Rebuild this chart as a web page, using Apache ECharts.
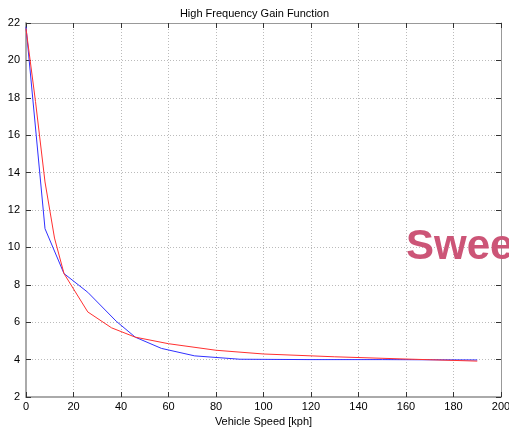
<!DOCTYPE html>
<html><head><meta charset="utf-8">
<script src="https://cdn.jsdelivr.net/npm/echarts@6/dist/echarts.min.js"></script>
<style>html,body{margin:0;padding:0;background:#fff}#c{width:509px;height:428px}</style>
</head><body><div id="c"></div>
<script>
const blueSpeed = [0, 8, 16, 26, 38, 46, 57, 71, 90, 120, 150, 190];
const blueGain  = [21.8, 11.0, 8.6, 7.6, 6.05, 5.2, 4.6, 4.2, 4.02, 4.0, 4.0, 3.98];
const redSpeed  = [0, 4, 8, 12, 16, 26, 36, 46, 60, 80, 100, 130, 160, 190];
const redGain   = [21.7, 17.8, 13.5, 10.5, 8.6, 6.55, 5.7, 5.2, 4.85, 4.5, 4.3, 4.15, 4.03, 3.92];
const xTicks = [0, 200, 20];
const yTicks = [2, 22, 2];
const titleText = 'High Frequency Gain Function';
const xName = 'Vehicle Speed [kph]';
const watermark = 'Swee';

const font = 'Arial, "Liberation Sans", sans-serif';
const chart = echarts.init(document.getElementById('c'), null, {renderer: 'canvas'});
const pair = (xs, ys) => xs.map((x, i) => [x, ys[i]]);
function sideAxis(extra) {
  return Object.assign({
    type: 'value',
    axisLine: {show: true, onZero: false, lineStyle: {color: '#999', width: 1}},
    axisTick: {show: true, inside: true, length: 5, lineStyle: {color: '#333'}},
    axisLabel: {show: false}, splitLine: {show: false}
  }, extra);
}
chart.setOption({
  animation: false,
  backgroundColor: '#fff',
  title: {text: titleText, left: 'center', top: 3,
    textStyle: {fontFamily: font, fontSize: 11, fontWeight: 'normal', color: '#000'}},
  grid: {left: 26, right: 8, top: 23, bottom: 31, show: false, outerBoundsMode: 'none', containLabel: false},
  xAxis: [{
    type: 'value', min: xTicks[0], max: xTicks[1], interval: xTicks[2],
    name: xName, nameLocation: 'middle', nameGap: 19,
    nameTextStyle: {fontFamily: font, fontSize: 11, color: '#000'},
    axisLine: {show: true, onZero: false, lineStyle: {color: '#aaa', width: 2}},
    axisTick: {show: true, inside: true, length: 5, lineStyle: {color: '#333'}},
    axisLabel: {fontFamily: font, fontSize: 11, color: '#000', margin: 4},
    splitLine: {show: true, lineStyle: {color: '#bbb', type: [1, 2], width: 1}}
  }, sideAxis({position: 'top', min: xTicks[0], max: xTicks[1], interval: xTicks[2]})],
  yAxis: [{
    type: 'value', min: yTicks[0], max: yTicks[1], interval: yTicks[2],
    axisLine: {show: true, onZero: false, lineStyle: {color: '#aaa', width: 2}},
    axisTick: {show: true, inside: true, length: 5, lineStyle: {color: '#333'}},
    axisLabel: {fontFamily: font, fontSize: 11, color: '#000', margin: 6},
    splitLine: {show: true, lineStyle: {color: '#bbb', type: [1, 2], width: 1}}
  }, sideAxis({position: 'right', min: yTicks[0], max: yTicks[1], interval: yTicks[2]})],
  series: [
    {type: 'line', data: pair(blueSpeed, blueGain), showSymbol: false, lineStyle: {color: '#3030ff', width: 1}, z: 3},
    {type: 'line', data: pair(redSpeed, redGain), showSymbol: false, lineStyle: {color: '#ff3030', width: 1}, z: 4}
  ],
  graphic: [{
    type: 'text', x: 406, y: 247, z: 100,
    style: {text: watermark, font: 'bold 42px Arial, "Liberation Sans", sans-serif', fill: '#cc5577', verticalAlign: 'middle'}
  }]
});
</script></body></html>
